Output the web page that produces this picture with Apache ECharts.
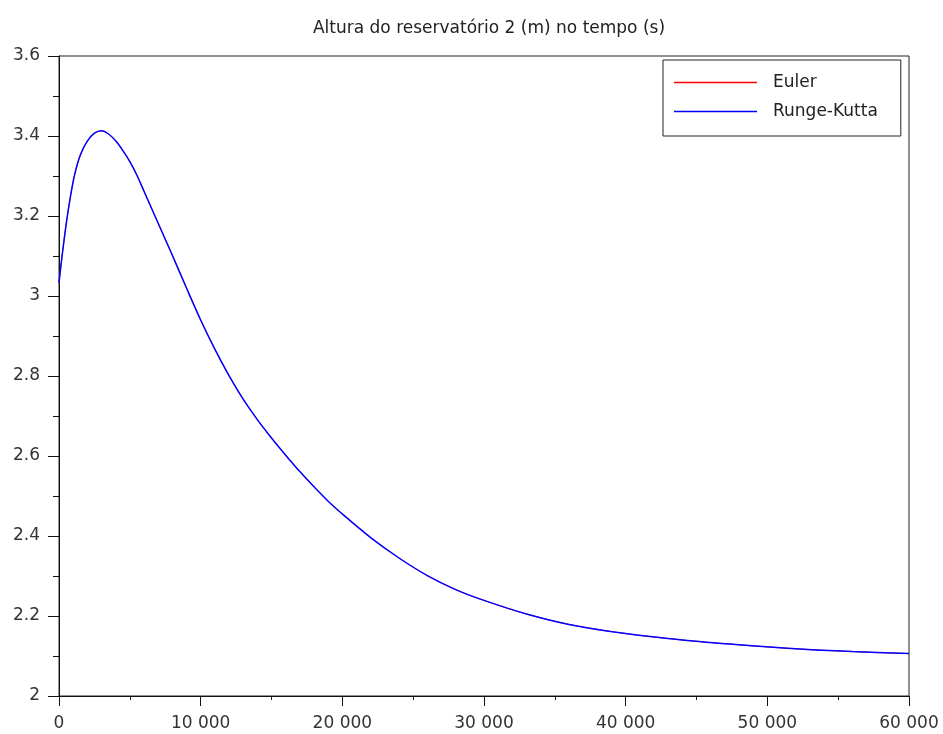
<!DOCTYPE html>
<html>
<head>
<meta charset="utf-8">
<script src="https://cdn.jsdelivr.net/npm/echarts@6/dist/echarts.min.js"></script>
<style>html,body{margin:0;padding:0;background:#fff}#c{width:943px;height:734px}</style>
</head>
<body>
<div id="c"></div>
<script>
var chartTitle = 'Altura do reservatório 2 (m) no tempo (s)';
var seriesNames = ['Euler', 'Runge-Kutta'];
var timeS = [0, 200, 500, 800, 1100, 1500, 2000, 2500, 3000, 3500, 4000, 4500, 5000, 5500, 6000, 6500, 7000, 7500, 8000, 9000, 10000, 11000, 12000, 13000, 14000, 15000, 16000, 17000, 18000, 19000, 20000, 22000, 24000, 26000, 28000, 30000, 33000, 36000, 40000, 44000, 48000, 52000, 56000, 60000];
var heightRK = [3.033, 3.095, 3.178, 3.247, 3.303, 3.352, 3.387, 3.407, 3.413, 3.405, 3.388, 3.364, 3.336, 3.302, 3.262, 3.222, 3.182, 3.142, 3.102, 3.020, 2.940, 2.867, 2.801, 2.742, 2.691, 2.645, 2.602, 2.561, 2.523, 2.487, 2.455, 2.396, 2.345, 2.301, 2.266, 2.239, 2.205, 2.179, 2.156, 2.140, 2.128, 2.118, 2.111, 2.106];
var heightEuler = [3.033, 3.095, 3.178, 3.247, 3.303, 3.352, 3.387, 3.407, 3.413, 3.405, 3.388, 3.364, 3.336, 3.302, 3.262, 3.222, 3.182, 3.142, 3.102, 3.020, 2.940, 2.867, 2.801, 2.742, 2.691, 2.645, 2.602, 2.561, 2.523, 2.487, 2.455, 2.396, 2.345, 2.301, 2.266, 2.239, 2.205, 2.179, 2.156, 2.140, 2.128, 2.118, 2.111, 2.106];

function pairs(xs, ys) { return xs.map(function (x, i) { return [x, ys[i]]; }); }
function fmtThousands(v) { return String(v).replace(/\B(?=(\d{3})+(?!\d))/g, ' '); }

var chart = echarts.init(document.getElementById('c'), null, { renderer: 'canvas' });
var font = 'DejaVu Sans, sans-serif';
var lineIcon = 'path://M0,0 L100,0 L100,2 L0,2 Z';
chart.setOption({
  animation: false,
  backgroundColor: '#fff',
  title: {
    text: chartTitle, left: 484, top: 15, textAlign: 'center',
    textStyle: { fontFamily: font, fontSize: 17, fontWeight: 'normal', color: '#222' }
  },
  grid: { left: 59, right: 34, top: 56, bottom: 38, show: true, borderColor: '#222', borderWidth: 1 },
  legend: {
    orient: 'vertical', left: 663, top: 60,
    padding: [14, 23, 16, 11], itemWidth: 83, itemHeight: 17, itemGap: 12,
    borderColor: '#222', borderWidth: 1, backgroundColor: '#fff',
    textStyle: { fontFamily: font, fontSize: 17, lineHeight: 17, color: '#222', padding: [0, 0, 0, 11] },
    data: [
      { name: seriesNames[0], icon: lineIcon },
      { name: seriesNames[1], icon: lineIcon }
    ]
  },
  xAxis: {
    type: 'value', min: 0, max: 60000, interval: 10000,
    axisLine: { lineStyle: { color: '#111', width: 1 } },
    axisTick: { length: 10, lineStyle: { color: '#111' } },
    minorTick: { show: true, splitNumber: 2, length: 4, lineStyle: { color: '#111' } },
    splitLine: { show: false },
    axisLabel: { margin: 19, fontFamily: font, fontSize: 17, color: '#333', formatter: fmtThousands }
  },
  yAxis: {
    type: 'value', min: 2, max: 3.6, interval: 0.2,
    axisLine: { lineStyle: { color: '#111', width: 1 } },
    axisTick: { length: 11, lineStyle: { color: '#111' } },
    minorTick: { show: true, splitNumber: 2, length: 6, lineStyle: { color: '#111' } },
    splitLine: { show: false },
    axisLabel: { margin: 19, fontFamily: font, fontSize: 17, color: '#333' }
  },
  series: [
    { name: seriesNames[0], type: 'line', data: pairs(timeS, heightEuler), symbol: 'none', smooth: 0.3, lineStyle: { color: '#ff0000', width: 0.8 }, itemStyle: { color: '#ff0000' } },
    { name: seriesNames[1], type: 'line', data: pairs(timeS, heightRK), symbol: 'none', smooth: 0.3, lineStyle: { color: '#0000ff', width: 1.5 }, itemStyle: { color: '#0000ff' } }
  ]
});
</script>
</body>
</html>
